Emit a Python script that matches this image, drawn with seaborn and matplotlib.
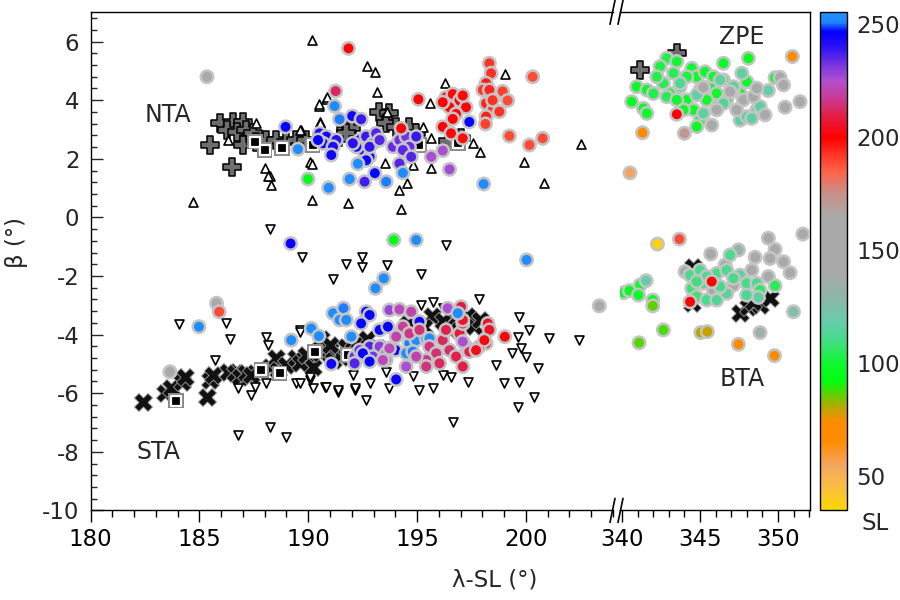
import matplotlib
matplotlib.use("Agg")
import matplotlib.pyplot as plt
import seaborn as sns
from matplotlib.colors import LinearSegmentedColormap, Normalize
from matplotlib.cm import ScalarMappable
from matplotlib.ticker import MultipleLocator
from matplotlib.lines import Line2D

# ---- coloured meteors, left part of the axis (NTA / STA) ----
nta_lam = [191.85, 191.26, 191.21, 191.44, 192.02, 192.43, 188.96, 189.53,
           190.52, 190.83, 191.29, 190.68, 191.14, 191.06, 190.45,
           192.36, 192.66, 192.97, 193.12, 192.51, 192.82, 192.21, 192.82, 193.28, 192.66, 192.05,
           192.28, 191.90, 190.94, 192.59, 193.06, 193.58,
           193.89, 194.19, 194.50, 194.65, 194.35, 194.96, 194.73, 194.19,
           194.35, 194.27, 195.65, 196.18, 196.49, 195.06,
           196.33, 196.64, 196.95, 197.25, 196.49, 196.79, 196.64, 197.10, 196.18,
           196.18, 196.56, 197.10, 197.40,
           198.32, 198.40, 198.17, 198.02, 198.32, 198.17, 198.47, 198.78, 198.17, 198.93, 199.16, 198.47,
           198.14, 200.31, 199.24, 200.16, 200.77, 198.06, 189.99, 185.35]
nta_beta = [5.77, 4.31, 3.80, 3.35, 3.46, 3.35, 3.09, 2.33,
            2.87, 2.76, 2.64, 2.53, 2.41, 2.13, 2.64,
            2.64, 2.76, 2.53, 2.87, 2.30, 2.07, 2.41, 2.41, 2.64, 1.95, 2.53,
            1.83, 1.31, 1.01, 1.22, 1.51, 1.22,
            2.41, 2.64, 2.76, 2.41, 2.30, 2.76, 2.07, 1.84,
            1.52, 3.04, 2.07, 2.28, 1.64, 4.03,
            4.10, 4.21, 3.99, 3.76, 3.76, 3.53, 3.36, 4.16, 3.93,
            3.09, 2.87, 2.70, 3.26,
            5.26, 4.92, 4.58, 4.35, 4.35, 3.89, 3.66, 3.61, 3.44, 4.30, 3.99, 4.00,
            3.19, 4.80, 2.78, 2.47, 2.70, 1.14, 1.31, 4.80]
nta_sl = [200, 212, 253, 250, 243, 238, 245, 253,
          242, 244, 240, 245, 242, 244, 246,
          240, 238, 238, 236, 242, 244, 243, 239, 236, 245, 240,
          253, 253, 253, 237, 247, 250,
          234, 233, 232, 234, 235, 238, 236, 236,
          253, 200, 225, 225, 226, 200,
          200, 199, 200, 201, 200, 200, 200, 199, 200,
          200, 199, 198, 245,
          192, 193, 195, 192, 194, 194, 192, 193, 195, 190, 188, 193,
          190, 188, 188, 188, 188, 253, 95, 150]

sta_lam = [189.19, 193.93, 194.96, 200.03, 193.47, 193.09,
           191.14, 191.62, 191.44, 191.75, 190.14, 190.49, 189.22, 191.98,
           192.66, 192.82, 192.43, 193.28, 193.66, 194.27, 195.11,
           193.73, 194.19, 194.73,
           192.13, 192.82, 193.28, 193.58, 192.97, 192.36, 193.58, 192.13,
           192.51, 192.82, 194.01, 191.06, 194.04, 194.50,
           194.65, 194.96, 195.42, 194.50, 194.80, 195.57,
           194.35, 194.65, 195.11, 195.57, 195.88, 195.42, 194.96, 196.18, 196.49, 196.33,
           196.79, 197.10, 197.25, 197.40, 196.95, 197.10, 195.42, 196.03, 194.04, 193.73, 193.43,
           197.02, 197.10, 198.25, 198.32, 198.17, 197.86, 197.71, 199.03, 198.09,
           196.41, 197.10, 196.87,
           183.65, 185.79, 185.91, 184.98, 203.37]
sta_beta = [-0.89, -0.77, -0.77, -1.45, -2.08, -2.42,
            -3.27, -3.10, -3.50, -3.50, -3.79, -4.05, -4.19, -4.07,
            -3.22, -3.33, -3.62, -3.84, -3.73, -3.90, -3.56,
            -3.16, -3.14, -3.22,
            -4.75, -4.41, -4.41, -4.64, -4.75, -4.53, -4.87, -4.98,
            -4.64, -4.92, -4.53, -5.00, -5.53, -5.09,
            -4.30, -4.19, -4.13, -4.64, -4.58, -4.13,
            -3.73, -3.96, -3.84, -4.41, -4.64, -4.87, -4.75, -4.19, -4.53, -3.84,
            -4.75, -5.09, -4.41, -4.58, -3.96, -3.62, -5.09, -4.98, -4.07, -4.47, -4.87,
            -3.05, -3.50, -3.62, -3.84, -4.30, -4.41, -4.53, -4.07, -4.19,
            -3.10, -4.24, -3.27,
            -5.27, -2.93, -3.22, -3.73, -3.02]
sta_sl = [245, 95, 253, 253, 253, 253,
          253, 250, 253, 253, 253, 253, 253, 253,
          245, 246, 247, 245, 246, 245, 244,
          228, 222, 220,
          234, 236, 230, 228, 232, 235, 226, 236,
          245, 246, 245, 244, 245, 225,
          250, 253, 251, 253, 250, 253,
          218, 216, 214, 215, 214, 216, 220, 212, 213, 210,
          210, 209, 209, 210, 208, 207, 215, 212, 220, 222, 222,
          208, 206, 205, 205, 203, 202, 204, 200, 201,
          225, 225, 253,
          150, 150, 188, 253, 150]

# ---- coloured meteors, right part of the axis (ZPE / BTA) ----
zpe_lam = [340.94, 341.59, 340.62, 341.37, 341.59, 342.87, 342.44, 343.51, 344.47, 344.79,
           345.32, 346.50, 348.10, 342.65, 343.08, 343.72, 344.15, 344.58, 345.00, 344.79,
           345.65, 346.07, 346.71, 346.50, 348.00, 347.57, 349.81, 342.23, 343.30, 344.15,
           345.43, 343.94, 342.01, 342.87, 343.51, 345.00, 345.86, 347.14,
           347.68, 346.29, 347.14, 344.79, 345.22, 346.07, 346.50, 347.57, 348.00, 348.64,
           348.85, 349.38, 343.72, 348.32,
           345.22, 346.93, 347.78, 348.42, 348.64, 350.13, 350.35, 350.45, 351.41, 347.35,
           345.75, 349.17, 346.07,
           350.92, 341.31, 343.51, 344.00, 340.51]
zpe_beta = [4.46, 4.35, 3.95, 3.72, 3.55, 5.43, 5.15, 5.32, 5.09, 4.80,
            4.97, 5.26, 5.43, 4.58, 4.23, 4.46, 4.01, 3.67, 3.32, 3.10,
            4.46, 4.23, 4.01, 4.69, 4.63, 4.23, 4.77, 4.80, 4.92, 4.80,
            4.01, 3.67, 4.23, 4.12, 4.01, 4.35, 4.80, 4.35,
            4.92, 4.69, 4.46, 4.18, 3.55, 3.78, 3.89, 3.32, 3.44, 3.67,
            3.78, 4.33, 4.58, 3.38,
            4.44, 4.29, 4.01, 4.12, 4.41, 4.78, 4.52, 3.76, 3.95, 3.67,
            3.15, 3.50, 3.67,
            5.49, 2.89, 3.52, 2.87, 1.52]
zpe_sl = [97, 98, 96, 97, 98, 103, 102, 100, 99, 98,
          100, 97, 96, 103, 102, 104, 98, 97, 96, 97,
          99, 98, 97, 100, 98, 97, 98, 103, 104, 102,
          98, 97, 103, 104, 100, 99, 98, 99,
          115, 116, 114, 117, 115, 116, 114, 115, 117, 116,
          115, 118, 112, 116,
          148, 150, 152, 150, 148, 150, 152, 150, 150, 148,
          150, 152, 150,
          70, 72, 200, 172, 55]

bta_lam = [345.69, 349.38, 351.59, 349.81, 349.49, 350.35, 350.77, 348.53, 349.38, 344.04,
           348.32, 345.86, 347.14, 346.61, 347.46,
           344.36, 345.00, 344.47, 345.22, 346.07, 346.71, 347.57, 347.14, 344.79, 345.43,
           346.07, 346.71, 347.99, 348.64, 348.85, 349.81, 348.74, 346.93, 346.29, 345.43,
           347.99, 344.79,
           345.75, 344.36, 342.27, 343.68,
           340.09, 340.47, 341.16, 341.05, 341.97, 341.54, 341.97,
           342.65, 341.09, 345.05, 345.47, 347.46, 349.77, 348.85, 350.99]
bta_beta = [-1.25, -0.71, -0.57, -1.09, -1.40, -1.51, -1.89, -1.36, -2.02, -1.85,
            -1.80, -2.53, -2.31, -1.62, -1.11,
            -1.97, -1.80, -2.42, -2.25, -1.91, -1.80, -1.97, -2.08, -2.71, -2.82,
            -2.82, -2.59, -2.25, -2.25, -2.48, -2.33, -2.73, -1.28, -2.36, -2.02,
            -2.65, -2.19,
            -2.19, -2.88, -0.91, -0.74,
            -2.57, -2.50, -2.31, -2.65, -2.82, -2.16, -3.02,
            -3.84, -4.28, -3.93, -3.90, -4.33, -4.72, -3.93, -3.22]
bta_sl = [150, 152, 150, 148, 150, 152, 150, 148, 150, 152,
          150, 145, 148, 140, 130,
          110, 112, 108, 114, 110, 112, 116, 110, 108, 111,
          113, 115, 110, 112, 106, 104, 116, 112, 110, 114,
          112, 109,
          200, 200, 38, 188,
          98, 97, 98, 98, 97, 120, 86,
          88, 87, 80, 79, 70, 70, 135, 125]

# ---- black reference symbols ----
plus_lam = [185.48, 186.48, 185.94, 186.55, 187.01, 186.25, 186.71, 187.16, 187.47, 187.01,
            187.62, 188.08, 188.54, 189.00, 189.46, 189.92, 190.37, 191.14, 191.75, 192.06,
            191.98, 193.27, 193.73, 193.58, 194.65, 194.96, 194.04, 191.75, 196.40, 197.00]
plus_beta = [2.47, 1.71, 3.21, 3.27, 3.27, 2.98, 2.93, 2.98, 2.87, 2.47,
             2.59, 2.64, 2.64, 2.59, 2.64, 2.64, 2.53, 2.53, 2.98, 2.76,
             3.04, 3.61, 3.55, 3.21, 3.10, 2.87, 3.10, 2.87, 2.60, 2.70]
plus_r_lam = [341.16, 343.51]
plus_r_beta = [5.03, 5.60]

cross_lam = [182.42, 183.42, 183.72, 184.18, 184.34, 185.33, 185.48, 185.63, 186.32, 186.63,
             186.86, 187.16, 187.39, 188.23, 188.54, 188.62, 189.00, 189.46, 189.61, 189.92,
             190.22, 190.53, 190.99, 191.14, 191.45, 191.75, 192.06, 192.29,
             195.70, 196.20, 196.80, 197.30, 197.60, 197.90, 195.30, 196.50, 194.60, 193.20,
             192.70, 190.60, 191.00, 191.90]
cross_beta = [-6.29, -6.00, -5.83, -5.61, -5.44, -6.12, -5.55, -5.38, -5.26, -5.32,
              -5.44, -5.32, -5.38, -5.09, -4.81, -5.21, -5.04, -4.81, -4.98, -4.70,
              -5.09, -4.64, -4.53, -4.87, -4.70, -4.41, -4.53, -4.24,
              -3.35, -3.55, -3.45, -3.35, -3.70, -3.50, -3.75, -3.85, -3.65, -4.45,
              -4.15, -4.15, -4.35, -4.75]
cross_r_lam = [347.57, 348.10, 348.85, 349.49, 344.58, 344.47, 348.42]
cross_r_beta = [-3.27, -3.05, -2.99, -2.76, -1.68, -2.93, -2.88]

sq_lam = [187.55, 188.00, 188.80, 190.20, 195.10, 196.87, 183.92, 187.85, 188.69, 190.30, 191.83]
sq_beta = [2.59, 2.30, 2.37, 2.47, 2.47, 2.53, -6.25, -5.21, -5.32, -4.58, -4.70]

tri_up_lam = [190.17, 192.69, 193.08, 193.15, 190.49, 190.83, 190.55, 193.61, 189.68, 190.10,
              190.19, 193.55, 194.53, 194.19, 194.25, 191.82, 190.17, 195.26, 195.60, 195.63,
              195.65, 196.30, 197.59, 197.91, 199.03, 199.93, 200.81, 194.80, 188.31, 188.23,
              184.72, 188.00, 188.16, 190.53, 190.88, 190.50, 186.32, 187.62, 189.61, 202.55]
tri_up_beta = [6.06, 5.17, 4.96, 4.28, 3.80, 4.05, 3.27, 3.61, 2.98, 1.90,
               1.82, 1.84, 1.16, 0.93, 0.29, 0.48, 0.59, 3.10, 3.92, 2.70,
               1.69, 4.60, 2.53, 2.22, 4.89, 1.89, 1.16, 1.79, 1.10, 1.43,
               0.54, 1.67, 1.41, 3.23, 4.12, 3.86, 2.64, 3.21, 2.98, 2.50]

tri_dn_lam = [188.23, 189.71, 191.75, 192.48, 192.48, 193.61, 191.14, 195.19, 196.33, 197.86,
              199.70, 200.16, 201.04, 199.62, 199.36, 199.77, 200.00, 198.63, 200.54, 199.70,
              199.01, 200.35, 199.62, 196.64, 197.33, 195.72, 195.11, 193.70, 192.66, 192.13,
              191.36, 190.22, 190.75, 189.45, 190.06, 192.82, 193.58, 192.05, 194.80, 196.18,
              189.64, 195.19, 195.72, 196.18, 196.56, 188.99, 188.23,
              184.07, 186.22, 186.40, 185.71, 186.78, 187.39, 188.05, 187.55, 186.78, 188.08,
              188.16, 189.61, 190.07, 189.61, 190.83, 191.37, 192.13, 202.42]
tri_dn_beta = [-0.41, -1.34, -1.60, -1.34, -1.68, -1.62, -2.11, -1.94, -0.94, -2.80,
               -3.39, -3.84, -4.13, -4.07, -4.64, -4.47, -4.75, -5.04, -5.15, -5.61,
               -5.64, -6.12, -6.46, -6.97, -5.61, -5.83, -5.89, -5.83, -6.23, -5.89,
               -5.95, -5.83, -5.78, -5.66, -5.55, -5.66, -5.27, -5.38, -5.41, -5.38,
               -3.84, -2.99, -2.88, -3.10, -5.44, -7.48, -7.14,
               -3.64, -3.59, -4.16, -4.87, -5.83, -6.06, -5.64, -5.78, -7.43, -4.07,
               -4.35, -3.90, -5.44, -5.66, -5.78, -5.89, -5.83, -4.20]

# shower labels
labels_left = [("NTA", 183.56, 3.5), ("STA", 183.1, -8.0)]
labels_right = [("ZPE", 347.67, 6.15), ("BTA", 347.73, -5.53)]

# SL colour scale
sl_min, sl_max = 35, 255
sl_nodes = [35, 45, 55, 65, 74, 80, 86, 92, 100, 110, 118, 130, 140, 165, 175, 185,
            200, 210, 218, 225, 232, 240, 247, 251, 255]
sl_colors = ["#FFD700", "#F9BE45", "#F4A460", "#FF8C00", "#FF8C00", "#B8A800", "#60D000",
             "#00FF10", "#10F830", "#45DC88", "#66CDAA", "#90B5A8", "#A9A9A9", "#A9A9A9",
             "#C89088", "#FF6347", "#FF0000", "#E0204A", "#C83C9A", "#B050D0", "#7A36E0",
             "#2A10F5", "#0000FF", "#1E88FF", "#2090FF"]

sns.set_style("ticks")
plt.rcParams["font.family"] = ["DejaVu Sans"]
plt.rcParams["axes.unicode_minus"] = False
plt.rcParams["font.size"] = 16.5

cmap = LinearSegmentedColormap.from_list(
    "sl", [((v - sl_min) / (sl_max - sl_min), c) for v, c in zip(sl_nodes, sl_colors)])
norm = Normalize(sl_min, sl_max)

fig = plt.figure(figsize=(9, 6), dpi=100)
W, H = 900.0, 600.0
top_px, bot_px = 12.3, 510.4
ax1 = fig.add_axes([90.5 / W, 1 - bot_px / H, (613 - 90.5) / W, (bot_px - top_px) / H])
ax2 = fig.add_axes([620 / W, 1 - bot_px / H, (810 - 620) / W, (bot_px - top_px) / H])
cax = fig.add_axes([819.5 / W, 1 - bot_px / H, 27 / W, (bot_px - top_px) / H])

circ = dict(s=80, edgecolor="#c4c4c4", linewidth=1.8, palette=cmap, hue_norm=(sl_min, sl_max),
            legend=False, zorder=5)
plus_kw = dict(marker="P", s=165, color="#6e6e6e", edgecolor="black", linewidth=1.1, zorder=2)
cross_kw = dict(marker="X", s=170, color="#111111", edgecolor="#a0a0a0", linewidth=0.6, zorder=2)

# left panel
sns.scatterplot(x=plus_lam, y=plus_beta, ax=ax1, **plus_kw)
sns.scatterplot(x=cross_lam, y=cross_beta, ax=ax1, **cross_kw)
sns.scatterplot(x=sq_lam, y=sq_beta, ax=ax1, marker="s", s=125, color="#8a8a8a",
                edgecolor="none", zorder=3)
sns.scatterplot(x=sq_lam, y=sq_beta, ax=ax1, marker="s", s=58, color="black",
                edgecolor="white", linewidth=1.6, zorder=3)
sns.scatterplot(x=tri_up_lam, y=tri_up_beta, ax=ax1, marker="^", s=42, color="white",
                edgecolor="black", linewidth=1.2, zorder=4)
sns.scatterplot(x=tri_dn_lam, y=tri_dn_beta, ax=ax1, marker="v", s=42, color="white",
                edgecolor="black", linewidth=1.2, zorder=4)
sns.scatterplot(x=nta_lam, y=nta_beta, hue=nta_sl, ax=ax1, **circ)
sns.scatterplot(x=sta_lam, y=sta_beta, hue=sta_sl, ax=ax1, **circ)

# right panel
sns.scatterplot(x=plus_r_lam, y=plus_r_beta, ax=ax2, **plus_kw)
sns.scatterplot(x=cross_r_lam, y=cross_r_beta, ax=ax2, **cross_kw)
sns.scatterplot(x=zpe_lam, y=zpe_beta, hue=zpe_sl, ax=ax2, **circ)
sns.scatterplot(x=bta_lam, y=bta_beta, hue=bta_sl, ax=ax2, **circ)

for name, lx, ly in labels_left:
    ax1.text(lx, ly, name, fontsize=17, ha="center", va="center", zorder=6)
for name, lx, ly in labels_right:
    ax2.text(lx, ly, name, fontsize=17, ha="center", va="center", zorder=6)

ax1.set_xlim(180, 204)
ax2.set_xlim(339.87, 352.05)
for ax in (ax1, ax2):
    ax.set_ylim(-10, 7)
    ax.set_xlabel("")
    ax.set_ylabel("")
    ax.xaxis.set_major_locator(MultipleLocator(5))
    ax.xaxis.set_minor_locator(MultipleLocator(1))
    ax.tick_params(axis="x", which="both", direction="out", top=False, width=1,
                   labelsize=16.5, colors="black")
    ax.tick_params(axis="x", which="major", length=8.5, pad=4)
    ax.tick_params(axis="x", which="minor", length=5)
    for sp in ax.spines.values():
        sp.set_linewidth(1.0)
        sp.set_color("black")

ax1.yaxis.set_major_locator(MultipleLocator(2))
ax1.yaxis.set_minor_locator(MultipleLocator(0.4))
ax1.tick_params(axis="y", which="both", direction="in", right=False, width=1, labelsize=16.5, pad=8)
ax1.tick_params(axis="y", which="major", length=8.5)
ax1.tick_params(axis="y", which="minor", length=4.5)
ax1.spines["right"].set_visible(False)
ax2.spines["left"].set_visible(False)
ax2.tick_params(axis="y", which="both", left=False, right=False, labelleft=False)

# axis break marks
for xp in (612.5, 620.5):
    for yp in (top_px, bot_px):
        fig.add_artist(Line2D([(xp - 2.5) / W, (xp + 2.5) / W],
                              [1 - (yp + 12) / H, 1 - (yp - 12) / H],
                              color="black", lw=1.2))

# colour bar
cb = fig.colorbar(ScalarMappable(norm=norm, cmap=cmap), cax=cax)
cb.set_ticks([50, 100, 150, 200, 250])
cb.outline.set_linewidth(1.0)
cb.outline.set_edgecolor("black")
cax.tick_params(direction="in", length=7, width=1, left=True, right=True,
                labelsize=16.5, pad=7)
cax.minorticks_off()

fig.text(875 / W, 1 - 524 / H, "SL", fontsize=16.5, ha="center", va="center")
fig.text(495 / W, 1 - 580 / H, "λ-SL (°)", fontsize=16.5, ha="center", va="center")
fig.text(17 / W, 1 - 242 / H, "β (°)", fontsize=16.5, ha="center", va="center", rotation=90)

fig.savefig("out.png", dpi=100)
